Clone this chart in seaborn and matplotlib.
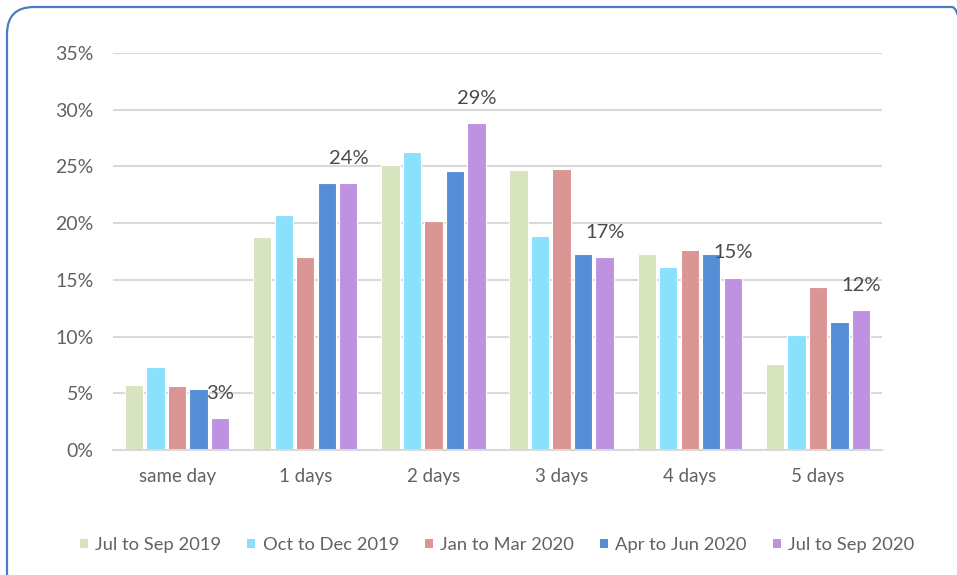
import matplotlib
matplotlib.use("Agg")
import matplotlib.pyplot as plt
import matplotlib.transforms as mtransforms
from matplotlib.patches import FancyBboxPatch, Rectangle
from matplotlib.ticker import FuncFormatter, FixedLocator
import seaborn as sns
import pandas as pd

categories = ["same day", "1 days", "2 days", "3 days", "4 days", "5 days"]
series_names = ["Jul to Sep 2019", "Oct to Dec 2019", "Jan to Mar 2020",
                "Apr to Jun 2020", "Jul to Sep 2020"]
jul_sep_2019 = [5.7, 18.8, 25.1, 24.7, 17.3, 7.6]
oct_dec_2019 = [7.3, 20.7, 26.3, 18.9, 16.1, 10.1]
jan_mar_2020 = [5.6, 17.0, 20.2, 24.8, 17.6, 14.4]
apr_jun_2020 = [5.4, 23.5, 24.6, 17.3, 17.3, 11.3]
jul_sep_2020 = [2.8, 23.5, 28.8, 17.0, 15.2, 12.3]
series_values = [jul_sep_2019, oct_dec_2019, jan_mar_2020, apr_jun_2020, jul_sep_2020]
colors = ["#D7E4BD", "#8AE1FD", "#D99694", "#558ED5", "#BE92E0"]
y_ticks = [0, 5, 10, 15, 20, 25, 30, 35]

rows = []
for name, vals in zip(series_names, series_values):
    for cat, v in zip(categories, vals):
        rows.append({"category": cat, "series": name, "value": v})
df = pd.DataFrame(rows)

sns.set_theme(style="white")
plt.rcParams["font.family"] = ["Lato", "DejaVu Sans"]

W, H = 957, 575
fig = plt.figure(figsize=(W / 100, H / 100), dpi=100)
ax = fig.add_axes([113 / W, (H - 450) / H, (882 - 113) / W, (450 - 53) / H])

sns.barplot(data=df, x="category", y="value", hue="series", order=categories,
            hue_order=series_names, palette=colors, width=0.84, gap=0.15,
            edgecolor="white", linewidth=0.8, saturation=1, ax=ax)

if ax.get_legend() is not None:
    ax.get_legend().remove()

ax.set_xlim(-0.5, len(categories) - 0.5)
ax.set_ylim(0, 35)
ax.yaxis.set_major_locator(FixedLocator(y_ticks))
ax.yaxis.set_major_formatter(FuncFormatter(lambda v, p: f"{v:.0f}%"))
ax.grid(axis="y", color="#D9D9D9", linewidth=1.5)
ax.set_axisbelow(True)
for s in ["top", "right", "left"]:
    ax.spines[s].set_visible(False)
ax.spines["bottom"].set_color("#D9D9D9")
ax.spines["bottom"].set_linewidth(1.5)
ax.set_xlabel("")
ax.set_ylabel("")

text_grey = "#626262"
ax.tick_params(axis="y", length=0, pad=14, labelsize=14, labelcolor=text_grey)
ax.tick_params(axis="x", which="major", length=0, pad=13, labelsize=13.5, labelcolor=text_grey)
ax.set_xticks([i - 0.5 for i in range(len(categories) + 1)], minor=True)
ax.tick_params(axis="x", which="minor", length=6, width=1.5, color="#D9D9D9", direction="out")

# data labels on last series
last = ax.containers[-1]
for patch, v in zip(last.patches, jul_sep_2020):
    cx = patch.get_x() + patch.get_width() / 2
    ax.annotate(f"{round(v):.0f}%", xy=(cx, patch.get_height()), xytext=(0, 18),
                textcoords="offset points", ha="center", va="center",
                fontsize=14.5, color="#4A4A4A")

leg_handles = [Rectangle((0, 0), 1, 1, facecolor=c, edgecolor="none") for c in colors]
fig.legend(leg_handles, series_names, loc="center", bbox_to_anchor=(497 / W, (H - 545) / H),
           ncol=5, frameon=False, fontsize=13.2, handlelength=0.45, handleheight=0.45,
           handletextpad=0.4, columnspacing=1.4, labelcolor=text_grey)

border = FancyBboxPatch((7, -60), 972, H - 7 + 60,
                        boxstyle="round,pad=0,rounding_size=27",
                        transform=mtransforms.IdentityTransform(),
                        facecolor="none", edgecolor="#4A7EC0", linewidth=1.6)
fig.patches.append(border)

fig.savefig("out.png", dpi=100)
